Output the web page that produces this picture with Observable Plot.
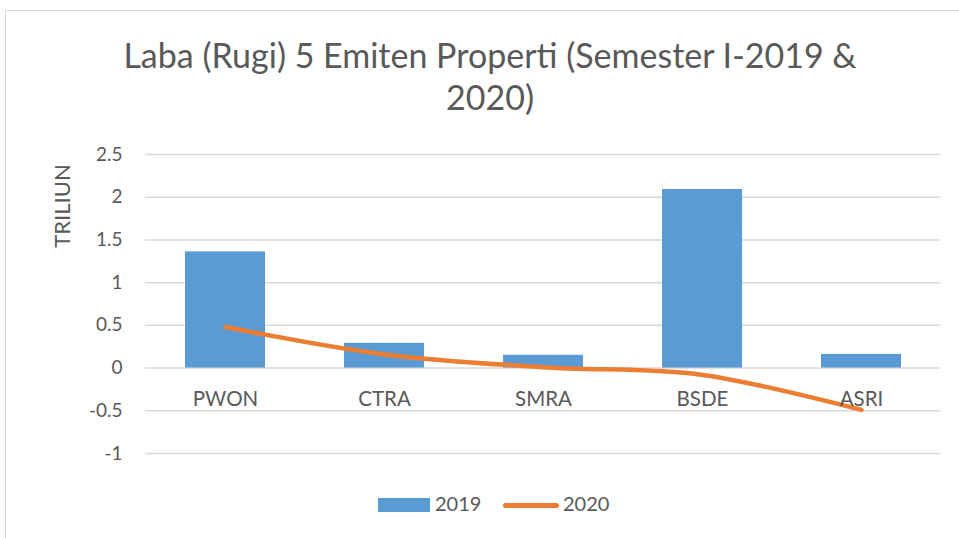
<!DOCTYPE html>
<html>
<head>
<meta charset="utf-8">
<script src="https://cdn.jsdelivr.net/npm/d3@7"></script>
<script src="https://cdn.jsdelivr.net/npm/@observablehq/plot@0.6"></script>
<style>
  html, body { margin: 0; padding: 0; background: #fff; overflow: hidden; width: 959px; height: 538px; }
  body { position: relative; font-family: Lato, "Open Sans", sans-serif; color: #595959; }
  #frame { position: absolute; left: 5px; top: 10px; width: 1000px; height: 600px; border: 1px solid #d9d9d9; box-sizing: border-box; }
  #title { position: absolute; left: 0; top: 34px; width: 980px; text-align: center; font-size: 34px; line-height: 42px; color: #595959; }
  #ylabel { position: absolute; left: 61px; top: 206px; transform: translate(-50%, -50%) rotate(-90deg); font-size: 22px; white-space: nowrap; }
  #chart { position: absolute; left: 0; top: 140px; }
  #legend { position: absolute; top: 490px; left: 0; width: 959px; height: 30px; font-size: 20px; }
  .sw { position: absolute; }
  .lt { position: absolute; top: 1px; }
</style>
</head>
<body>
<div id="frame"></div>
<div id="title">Laba (Rugi) 5 Emiten Properti (Semester I-2019 &amp;<br>2020)</div>
<div id="ylabel">TRILIUN</div>
<div id="chart"></div>
<div id="legend">
  <div class="sw" style="left:378px; top:8px; width:52px; height:14px; background:#5b9bd5;"></div>
  <div class="lt" style="left:435px;">2019</div>
  <div class="sw" style="left:503px; top:13px; width:56px; height:5px; border-radius:3px; background:#ed7d31;"></div>
  <div class="lt" style="left:563px;">2020</div>
</div>
<script>
const categories = ["PWON", "CTRA", "SMRA", "BSDE", "ASRI"];
const values2019 = [1.36, 0.29, 0.15, 2.09, 0.16];
const values2020 = [0.48, 0.16, 0.01, -0.08, -0.49];
const yTicks = [-1, -0.5, 0, 0.5, 1, 1.5, 2, 2.5];

const data = categories.map((c, i) => ({cat: c, v2019: values2019[i], v2020: values2020[i]}));

const plot = Plot.plot({
  width: 959,
  height: 340,
  marginLeft: 145,
  marginRight: 19,
  marginTop: 14,
  marginBottom: 27,
  style: {fontFamily: "Lato, 'Open Sans', sans-serif", fontSize: "19px", color: "#595959", background: "transparent"},
  x: {domain: categories, type: "band", paddingInner: 0.5, paddingOuter: 0.25, axis: null},
  y: {domain: [-1, 2.5], ticks: yTicks, tickFormat: d => String(d), tickSize: 0, tickPadding: 23, label: null},
  marks: [
    Plot.ruleY(yTicks, {stroke: "#d9d9d9", strokeWidth: 1.5}),
    Plot.barY(data, {x: "cat", y: "v2019", fill: "#5b9bd5"}),
    Plot.line(data, {x: "cat", y: "v2020", stroke: "#ed7d31", strokeWidth: 4.5, strokeLinecap: "round", curve: "catmull-rom"}),
    Plot.text(categories, {x: d => d, y: 0, dy: 31.5, fill: "#595959", fontSize: 20.5}),
    Plot.axisY({ticks: yTicks, tickFormat: d => String(d), tickSize: 0, tickPadding: 23, fontSize: 19, label: null})
  ]
});
document.getElementById("chart").appendChild(plot);
</script>
</body>
</html>
